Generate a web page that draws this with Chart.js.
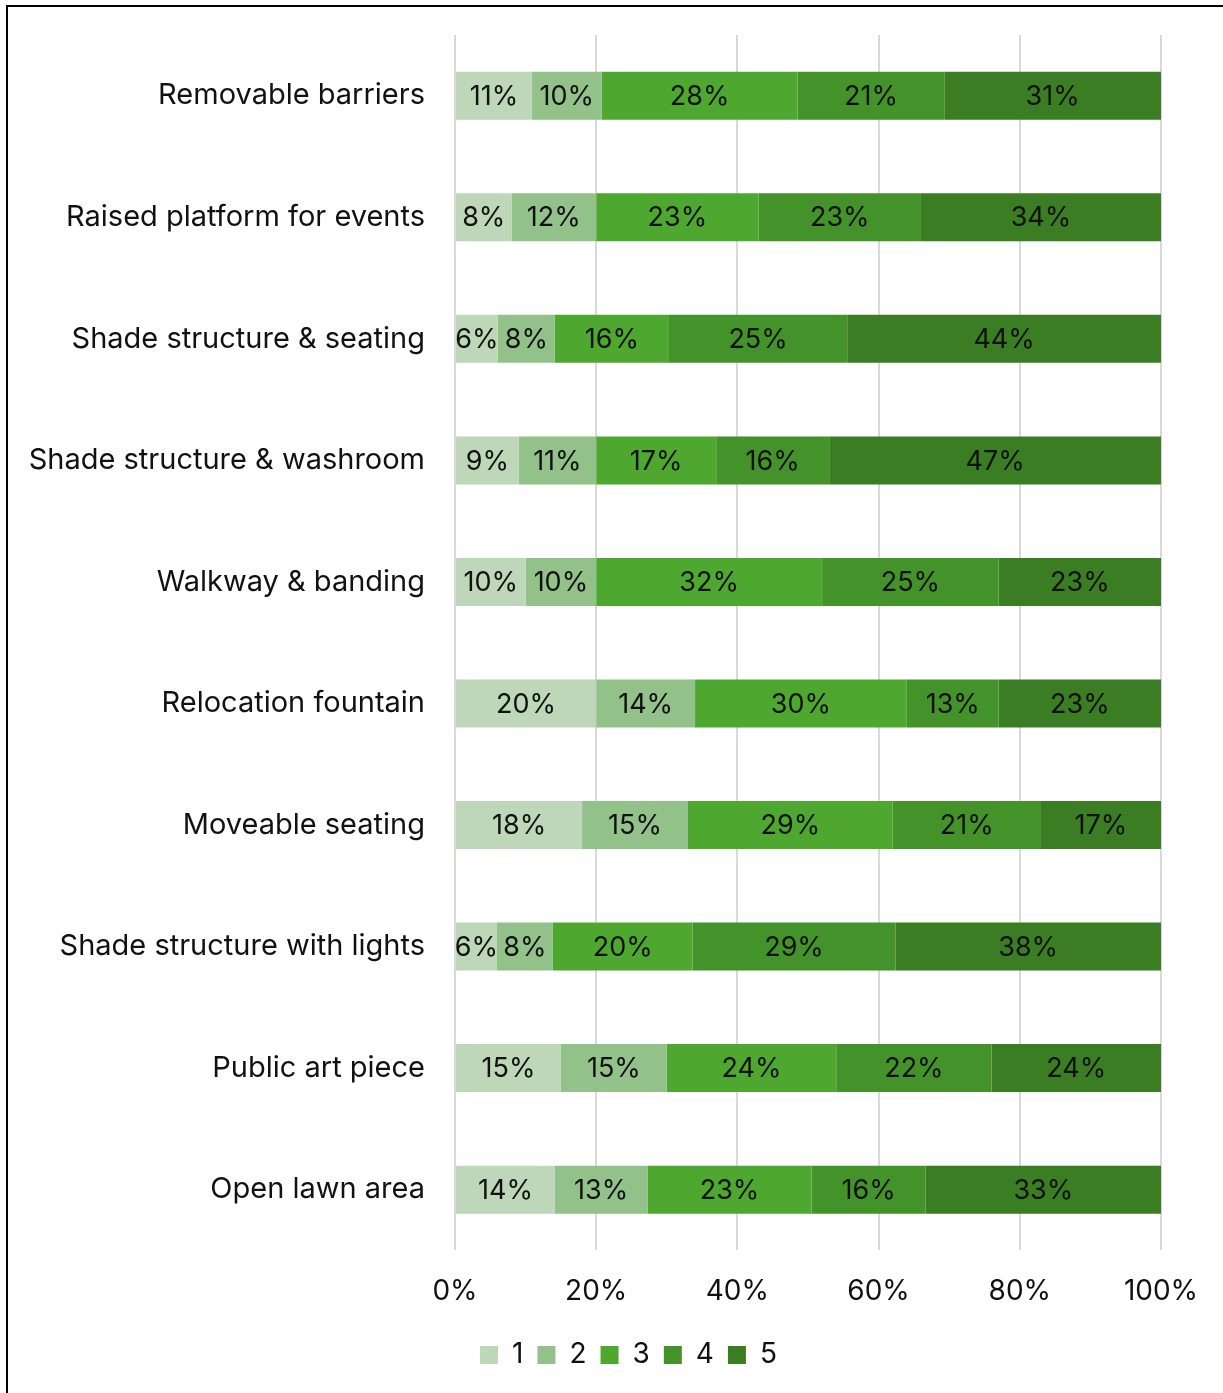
<!DOCTYPE html>
<html>
<head>
<meta charset="utf-8">
<script src="https://cdn.jsdelivr.net/npm/chart.js@4/dist/chart.umd.min.js"></script>
<style>
  html, body { margin: 0; padding: 0; background: #fff; overflow: hidden; }
  #wrap { position: relative; width: 1223px; height: 1393px; }
  #frame {
    position: absolute; left: 6px; top: 5px; right: 0; bottom: 0;
    border-top: 2px solid #000; border-left: 2px solid #000;
    pointer-events: none;
  }
  canvas { position: absolute; left: 0; top: 0; }
</style>
</head>
<body>
<div id="wrap">
  <canvas id="grafico" width="1223" height="1393"></canvas>
  <div id="frame"></div>
</div>
<script>
// categorías (de arriba hacia abajo)
var categorias = [
  'Removable barriers',
  'Raised platform for events',
  'Shade structure & seating',
  'Shade structure & washroom',
  'Walkway & banding',
  'Relocation fountain',
  'Moveable seating',
  'Shade structure with lights',
  'Public art piece',
  'Open lawn area'
];

// porcentaje de respuestas por puntuación (1 a 5)
var puntuacion1 = [11, 8, 6, 9, 10, 20, 18, 6, 15, 14];
var puntuacion2 = [10, 12, 8, 11, 10, 14, 15, 8, 15, 13];
var puntuacion3 = [28, 23, 16, 17, 32, 30, 29, 20, 24, 23];
var puntuacion4 = [21, 23, 25, 16, 25, 13, 21, 29, 22, 16];
var puntuacion5 = [31, 34, 44, 47, 23, 23, 17, 38, 24, 33];

var series = ['1', '2', '3', '4', '5'];
var ticksX = [0, 20, 40, 60, 80, 100];

var colores = ['#BDD7B8', '#93C18A', '#4EA72E', '#43922A', '#3A7D22'];
var fuente = 'Inter, "Noto Sans", sans-serif';

var valores = [puntuacion1, puntuacion2, puntuacion3, puntuacion4, puntuacion5];

// cada fila se normaliza a 100% (barra apilada al 100%)
var totales = categorias.map(function(c, i) {
  var s = 0;
  valores.forEach(function(v) { s += v[i]; });
  return s;
});

var datasets = series.map(function(nombre, k) {
  return {
    label: nombre,
    data: valores[k].map(function(v, i) { return v / totales[i] * 100; }),
    etiquetas: valores[k],
    backgroundColor: colores[k],
    borderWidth: 0,
    categoryPercentage: 1,
    barPercentage: 0.395
  };
});

// etiquetas de porcentaje dentro de cada segmento
var etiquetasBarras = {
  id: 'etiquetasBarras',
  afterDatasetsDraw: function(chart) {
    var ctx = chart.ctx;
    ctx.save();
    ctx.font = '27px ' + fuente;
    ctx.fillStyle = '#111';
    ctx.textAlign = 'center';
    ctx.textBaseline = 'middle';
    chart.data.datasets.forEach(function(ds, k) {
      chart.getDatasetMeta(k).data.forEach(function(bar, i) {
        ctx.fillText(ds.etiquetas[i] + '%', (bar.x + bar.base) / 2, bar.y + 1);
      });
    });
    ctx.restore();
  }
};

// la leyenda va un poco a la derecha del centro del lienzo
var moverLeyenda = {
  id: 'moverLeyenda',
  afterLayout: function(chart) {
    chart.legend.left += 43;
    chart.legend.right += 43;
  }
};

new Chart(document.getElementById('grafico').getContext('2d'), {
  type: 'bar',
  data: { labels: categorias, datasets: datasets },
  plugins: [etiquetasBarras, moverLeyenda],
  options: {
    indexAxis: 'y',
    responsive: false,
    animation: false,
    layout: { padding: { top: 35, left: 10, right: 62, bottom: 14 } },
    scales: {
      x: {
        stacked: true,
        min: 0,
        max: 100,
        afterBuildTicks: function(scale) {
          scale.ticks = ticksX.map(function(v) { return { value: v }; });
        },
        afterFit: function(scale) { scale.height -= 5; },
        ticks: {
          callback: function(v) { return v + '%'; },
          font: { family: fuente, size: 28 },
          color: '#111',
          padding: 24
        },
        grid: { color: '#D9D9D9', lineWidth: 2, drawTicks: false },
        border: { display: false }
      },
      y: {
        stacked: true,
        afterFit: function(scale) {
          scale.width = 445;
          scale.paddingTop = 0;
          scale.paddingBottom = 0;
        },
        ticks: {
          font: { family: fuente, size: 29 },
          color: '#111',
          padding: 30
        },
        grid: { display: false, drawTicks: false },
        border: { display: false }
      }
    },
    plugins: {
      legend: {
        position: 'bottom',
        labels: {
          font: { family: fuente, size: 28 },
          color: '#111',
          boxWidth: 18,
          boxHeight: 18,
          padding: 14
        }
      },
      tooltip: { enabled: false }
    }
  }
});
</script>
</body>
</html>
